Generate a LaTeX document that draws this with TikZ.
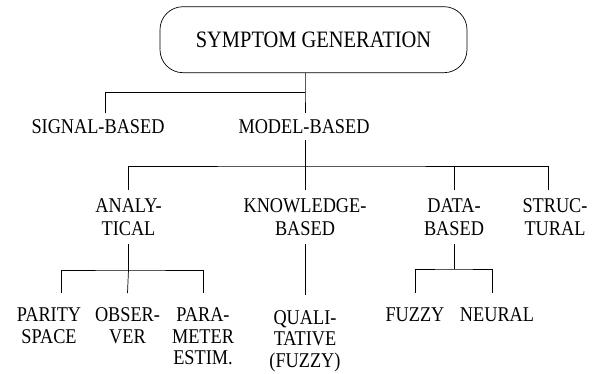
\documentclass[tikz,border=0pt]{standalone}
\usepackage{fontspec}
\setmainfont{Liberation Serif}[FakeStretch=0.87]

\begin{document}
\begin{tikzpicture}[x=1pt,y=-1pt,line width=0.7pt,
        lbl/.style={anchor=north,align=center,inner xsep=0pt,inner ysep=6pt,font=\fontsize{21}{22}\selectfont},
        mid/.style={lbl,inner ysep=8pt,font=\fontsize{21}{23}\selectfont},
        leaf/.style={lbl,inner ysep=14.5pt,font=\fontsize{21}{21.5}\selectfont}]
            \useasboundingbox (0,0) rectangle (597,374);
            \node [draw,rounded corners=23pt,minimum width=307pt,minimum height=66pt,font=\fontsize{23.5}{24}\selectfont] (sg) at (313.5,39.7) {SYMPTOM GENERATION};
            \node [lbl] (signal) at (98,113) {SIGNAL-BASED};
            \node [lbl] (model) at (304,113) {MODEL-BASED};
            \node [mid] (analyt) at (128.5,190) {ANALY-\\TICAL};
            \node [mid] (knowl) at (305,190) {KNOWLEDGE-\\BASED};
            \node [mid] (data) at (454,190) {DATA-\\BASED};
            \node [mid] (struct) at (555,190) {STRUC-\\TURAL};
            \node [leaf] (parity) at (49,293) {PARITY\\SPACE};
            \node [leaf] (observ) at (127.5,293) {OBSER-\\VER};
            \node [leaf] (param) at (203,293) {PARA-\\METER\\ESTIM.};
            \node [leaf,inner ysep=15pt] (qual) at (305,295) {QUALI-\\TATIVE\\(FUZZY)};
            \node [leaf] (fuzzy) at (415,293) {FUZZY};
            \node [leaf] (neural) at (497,293) {NEURAL};
            \coordinate (j0) at (305,92.7);
            \coordinate (j1) at (305,166);
            \coordinate (j2) at (128.5,270);
            \coordinate (j3) at (454,269);

            \draw (sg.south -| j0) -- (j0) -- (model.north -| j0);
            \draw ([xshift=7pt]signal.north) |- (j0);
            \draw (model.south -| j1) -- (j1);
            \draw (analyt.north) |- (j1) -| ([xshift=-7pt]struct.north);
            \draw (j1) -- (knowl.north);
            \draw (j1 -| data.north) -- (data.north);
            \draw (analyt.south) -- (j2);
            \draw ([xshift=12pt]parity.north) |- (j2) -| (param.north);
            \draw (j2) -- (observ.north);
            \draw (knowl.south) -- (qual.north);
            \draw (data.south) -- (j3);
            \draw (fuzzy.north) |- (j3) -| ([xshift=-5pt]neural.north);
        \end{tikzpicture}
\end{document}
